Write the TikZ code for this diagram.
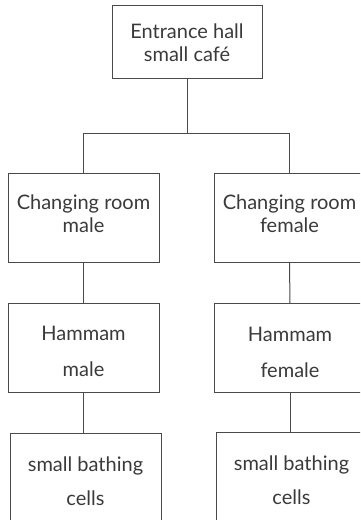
\documentclass[tikz,border=0pt]{standalone}
\usepackage{fontspec}
\setmainfont{Lato}
\definecolor{ink}{HTML}{3A3A3A}
\definecolor{rule}{HTML}{4A4A4A}
\begin{document}
\begin{tikzpicture}[x=1pt,y=-1pt,
  room/.style={draw=rule,line width=1pt,rectangle,inner sep=0pt,
    minimum width=151pt,minimum height=89pt},
  txt/.style={inner sep=0pt,align=center,text=ink},
  tight/.style={txt,font=\fontsize{20}{23}\selectfont},
  loose/.style={txt,font=\fontsize{20}{36}\selectfont},
  mid/.style={txt,font=\fontsize{20}{34}\selectfont},
  link/.style={draw=rule,line width=1pt}]
\useasboundingbox (0,0) rectangle (360,520);
\clip (0,0) rectangle (360,520);

% entrance
\node[room,minimum width=150pt,minimum height=73pt] (hall) at (187,41.5) {};
\node[tight] (hall-t) at ([yshift=-1.5pt]hall.center) {Entrance hall\\small café};

% changing rooms
\node[room] (chm) at (83.5,217.5) {};
\node[room] (chf) at (289.5,218) {};
\node[tight] (chm-t) at ([yshift=4pt]chm.center) {Changing room\\male};
\node[tight] (chf-t) at ([yshift=4pt]chf.center) {Changing room\\female};

% hammams
\node[room] (hmm) at (83.5,347.5) {};
\node[room] (hmf) at (290,348) {};
\node[loose] (hmm-t) at ([yshift=-4pt]hmm.center) {Hammam\\male};
\node[loose] (hmf-t) at ([yshift=-4pt]hmf.center) {Hammam\\female};

% bathing cells
\node[room,minimum height=90pt] (cm) at (85.5,478) {};
\node[room,minimum height=90pt] (cf) at (291.5,477) {};
\node[mid] (cm-t) at ([yshift=-3pt]cm.center) {small bathing\\cells};
\node[mid] (cf-t) at ([yshift=-3pt]cf.center) {small bathing\\cells};

% connectors
\coordinate (split) at (187,133);
\draw[link] (hall.south) -- (split);
\draw[link] (split) -| (chm.north);
\draw[link] (split) -| (chf.north);
\draw[link] (chm.south) -- (hmm.north);
\draw[link] (chf.south) -- (hmf.north);
\draw[link] (hmm.south) -- (hmm.south |- cm.north);
\draw[link] (hmf.south) -- (hmf.south |- cf.north);
\end{tikzpicture}
\end{document}
